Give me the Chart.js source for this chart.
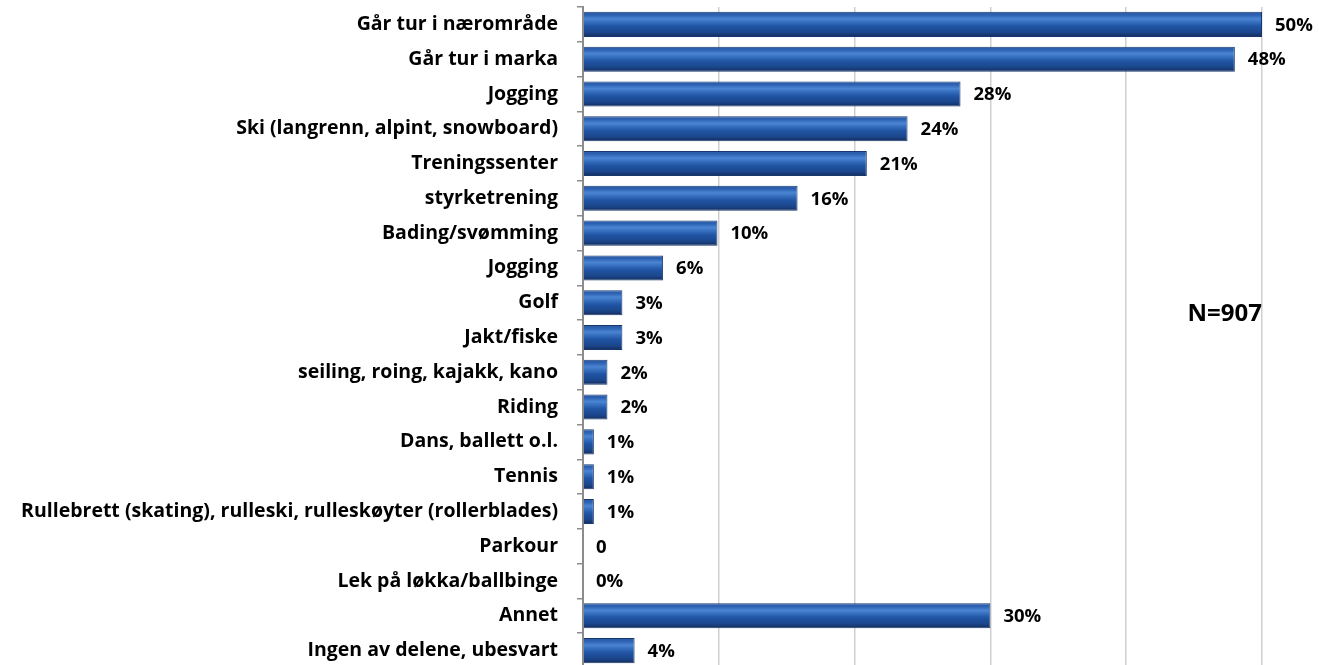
<!DOCTYPE html>
<html>
<head>
<meta charset="utf-8">
<script src="https://cdn.jsdelivr.net/npm/chart.js@4"></script>
<style>
  html, body { margin: 0; padding: 0; background: #fff; width: 1319px; height: 665px; overflow: hidden; }
  #wrap { position: relative; width: 1319px; height: 672px; }
</style>
</head>
<body>
<div id="wrap"><canvas id="chart"></canvas></div>
<script>
// activities, share of respondents (%)
const categories = [
  "Går tur i nærområde", "Går tur i marka", "Jogging", "Ski (langrenn, alpint, snowboard)",
  "Treningssenter", "styrketrening", "Bading/svømming", "Jogging", "Golf", "Jakt/fiske",
  "seiling, roing, kajakk, kano", "Riding", "Dans, ballett o.l.", "Tennis",
  "Rullebrett (skating), rulleski, rulleskøyter (rollerblades)", "Parkour",
  "Lek på løkka/ballbinge", "Annet", "Ingen av delene, ubesvart"
];
const values = [50, 48, 27.8, 23.9, 20.9, 15.8, 9.9, 5.9, 2.9, 2.9, 1.8, 1.8, 0.8, 0.8, 0.8, 0, 0, 30, 3.8];
const valueLabels = ["50%", "48%", "28%", "24%", "21%", "16%", "10%", "6%", "3%", "3%", "2%", "2%",
  "1%", "1%", "1%", "0", "0%", "30%", "4%"];
const noteText = "N=907";

const FONT = "'Open Sans', Lato, sans-serif";

// vertical gradient for each bar, like the shiny Excel bars
function barGradient(context) {
  const chart = context.chart;
  const y = chart.scales.y;
  if (!y || !chart.chartArea) return '#1f4f99';
  const cy = y.getPixelForValue(context.dataIndex);
  const h = (y.height / categories.length) * 0.72;
  const top = cy - h / 2;
  const g = chart.ctx.createLinearGradient(0, top, 0, top + h);
  g.addColorStop(0, '#2a5ba6');
  g.addColorStop(0.12, '#2c60b0');
  g.addColorStop(0.28, '#4a85d3');
  g.addColorStop(0.42, '#356dbd');
  g.addColorStop(0.58, '#2054a4');
  g.addColorStop(0.82, '#1b468b');
  g.addColorStop(1, '#132c5a');
  return g;
}

const valueLabelPlugin = {
  id: 'valueLabels',
  afterDatasetsDraw(chart) {
    const ctx = chart.ctx;
    const meta = chart.getDatasetMeta(0);
    ctx.save();
    ctx.font = "bold 18.5px " + FONT;
    ctx.fillStyle = '#000';
    ctx.textAlign = 'left';
    ctx.textBaseline = 'middle';
    meta.data.forEach((bar, i) => {
      ctx.fillText(valueLabels[i], bar.x + 13, bar.y + 1);
    });
    // sample size note
    const x = chart.scales.x.getPixelForValue(50);
    const yy = (chart.scales.y.getPixelForValue(8) + chart.scales.y.getPixelForValue(9)) / 2 - 6;
    ctx.font = "bold 24px " + FONT;
    ctx.textAlign = 'right';
    ctx.fillText(noteText, x, yy);
    ctx.restore();
  }
};

new Chart(document.getElementById('chart'), {
  type: 'bar',
  data: {
    labels: categories,
    datasets: [{
      data: values,
      backgroundColor: barGradient,
      borderColor: '#17386c',
      borderWidth: 1,
      borderSkipped: 'start',
      barPercentage: 0.72,
      categoryPercentage: 1
    }]
  },
  options: {
    indexAxis: 'y',
    responsive: true,
    maintainAspectRatio: false,
    animation: false,
    layout: { padding: { top: 7, right: 57, bottom: 4, left: 0 } },
    plugins: {
      legend: { display: false },
      tooltip: { enabled: false }
    },
    scales: {
      x: {
        min: 0,
        max: 50,
        ticks: { display: false, stepSize: 10 },
        grid: { color: '#cfcfcf', lineWidth: 1.5, drawTicks: false },
        border: { display: false },
        afterFit(scale) {
          scale.height = 0;
          scale.paddingLeft = 0; scale.paddingRight = 0;
        }
      },
      y: {
        ticks: {
          color: '#000',
          font: { family: FONT, size: 19.5, weight: 'bold' },
          padding: 19,
          autoSkip: false
        },
        grid: { drawOnChartArea: false, drawTicks: true, tickLength: 6, color: '#8c8c8c', lineWidth: 1.5 },
        border: { display: true, color: '#8c8c8c', width: 2 },
        afterFit(scale) {
          scale.width = 583;
          scale.paddingTop = 0; scale.paddingBottom = 0;
        }
      }
    }
  },
  plugins: [valueLabelPlugin]
});
</script>
</body>
</html>
